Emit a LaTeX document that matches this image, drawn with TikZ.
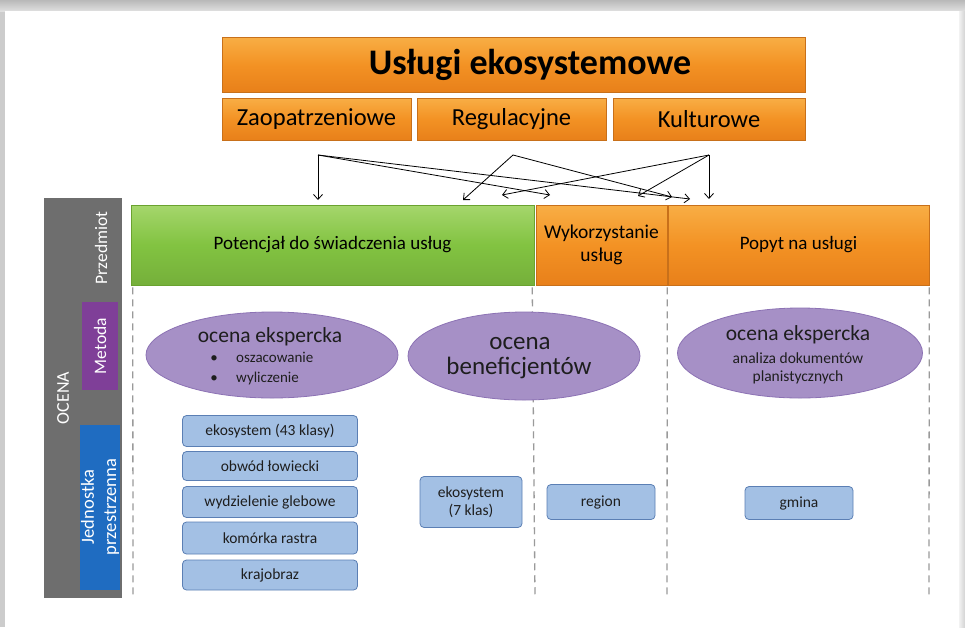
\documentclass[tikz,border=0pt]{standalone}
\usepackage{fontspec}
\setmainfont{Carlito}
\usetikzlibrary{arrows.meta,shapes.geometric}
\definecolor{orA}{HTML}{F39224}
\definecolor{orTop}{HTML}{F8AE45}
\definecolor{orBot}{HTML}{E8801A}
\definecolor{orLine}{HTML}{C8701A}
\definecolor{grA}{HTML}{82C341}
\definecolor{grTop}{HTML}{A5D66C}
\definecolor{grLine}{HTML}{6AA22F}
\definecolor{purE}{HTML}{A690C6}
\definecolor{purLine}{HTML}{8C72B4}
\definecolor{blueB}{HTML}{A3C0E4}
\definecolor{blueLine}{HTML}{5B7FB4}
\definecolor{metodaC}{HTML}{7F3F98}
\definecolor{jednC}{HTML}{1F6CC1}
\definecolor{barC}{HTML}{6E6E6E}
\definecolor{dashC}{HTML}{9A9A9A}
\definecolor{txtC}{HTML}{1E1E1E}
\begin{document}
\begin{tikzpicture}[x=1pt,y=-1pt,
  fs/.code={\pgfmathsetmacro\fsb{#1*1.2}\edef\fstmp{\noexpand\fontsize{#1}{\fsb}\noexpand\selectfont}\tikzset{font/.expand once=\fstmp}},
  obox/.style={draw=orLine, line width=0.5pt, top color=orTop, bottom color=orBot, middle color=orA, inner sep=0pt, text=black},
  gbox/.style={draw=grLine, line width=0.5pt, top color=grTop, bottom color=grA!90!black, middle color=grA, inner sep=0pt, text=black},
  ell/.style={ellipse, draw=purLine, line width=0.8pt, fill=purE, inner sep=0pt},
  etext/.style={inner sep=0pt, text=txtC},
  bbox/.style={draw=blueLine, line width=0.8pt, fill=blueB, rounded corners=4pt, inner sep=0pt, text=txtC, align=center, fs=15.5},
  sidebox/.style={inner sep=0pt, text=white},
  divider/.style={dashC, line width=1.3pt, dash pattern=on 7pt off 5pt},
  arr/.style={black, line width=0.8pt, -{Straight Barb[length=5pt,width=9pt]}}
]
\useasboundingbox (0,0) rectangle (965,627);
% page background
\fill[gray!40] (0,0) rectangle (965,627);
\shade[top color=gray!55, bottom color=gray!25] (0,0) rectangle (965,11);
\fill[white] (5,11) rectangle (959,627);
\shade[left color=gray!10, right color=gray!35] (959,11) rectangle (965,627);

% top boxes
\node[obox, minimum width=583pt, minimum height=55pt] (title) at (513.5,64.5) {};
\node[inner sep=0pt, font=\bfseries\fontsize{36}{40}\selectfont] (titlet) at (530,65) {Usługi ekosystemowe};
\node[obox, minimum width=189pt, minimum height=42pt, fs=24.5] (zao) at (316.5,119) {Zaopatrzeniowe};
\node[obox, minimum width=189pt, minimum height=42pt, fs=24.5] (reg) at (511.5,119) {Regulacyjne};
\node[obox, minimum width=192pt, minimum height=42pt, fs=24.5] (kul) at (709,119) {Kulturowe};

% arrows
\coordinate (zs) at (318,155);
\coordinate (rs) at (513,155);
\coordinate (ks) at (709,155);
\coordinate (t1) at (318,200);
\coordinate (t2) at (550,195);
\coordinate (t3) at (690,199);
\coordinate (t4) at (463,200);
\coordinate (t5) at (672,197);
\coordinate (t6) at (709,199);
\coordinate (t7) at (638,196);
\coordinate (t8) at (502,195);
\draw[arr] (zs) -- (t1);
\draw[arr] (zs) -- (t2);
\draw[arr] (zs) -- (t3);
\draw[arr] (rs) -- (t4);
\draw[arr] (rs) -- (t5);
\draw[arr] (ks) -- (t6);
\draw[arr] (ks) -- (t7);
\draw[arr] (ks) -- (t8);

% left side bar
\node[sidebox, fill=barC, minimum width=78pt, minimum height=400pt] (bar) at (83,398) {};
\node[sidebox, rotate=90, fs=18] (ocena) at (63,398) {OCENA};
\node[sidebox, rotate=90, fs=17.5] (przed) at (101,248) {Przedmiot};
\node[sidebox, fill=metodaC, minimum width=36pt, minimum height=88pt] (metoda) at (100,346) {};
\node[sidebox, rotate=90, fs=17.5] (metodat) at (metoda) {Metoda};
\node[sidebox, fill=jednC, minimum width=40pt, minimum height=165pt] (jedn) at (100,507) {};
\node[sidebox, rotate=90, fs=18.5, align=center] (jednt) at (jedn) {Jednostka\\przestrzenna};

% header row
\node[gbox, minimum width=403pt, minimum height=80pt, fs=19] (pot) at (332.5,245) {Potencjał do świadczenia usług};
\node[obox, minimum width=131pt, minimum height=80pt, fs=19.5, align=center] (wyk) at (601.5,245) {Wykorzystanie\\usług};
\node[obox, minimum width=261pt, minimum height=80pt, fs=19] (pop) at (798.5,245) {Popyt na usługi};

% dividers
\coordinate (d1b) at (133,598);
\coordinate (d2b) at (535,598);
\coordinate (d3b) at (667,598);
\coordinate (d4b) at (929,598);
\draw[divider] (pot.south west) ++(2,2) -- (d1b);
\draw[divider] (pot.south east) ++(-2,2) -- (d2b);
\draw[divider] (wyk.south east) ++(0,2) -- (d3b);
\draw[divider] (pop.south east) ++(0,2) -- (d4b);

% ellipses
\node[ell, minimum width=252pt, minimum height=86pt] (e1) at (272,355) {};
\node[etext, fs=21.5] (e1a) at (270,337) {ocena ekspercka};
\node[etext, fs=15, anchor=base west] (e1b) at (236,362) {oszacowanie};
\node[etext, fs=15, anchor=base west] (e1c) at (236,382) {wyliczenie};
\node[etext, fs=15, anchor=base] (e1bb) at (214,362) {\textbullet};
\node[etext, fs=15, anchor=base] (e1cb) at (214,382) {\textbullet};

\node[ell, minimum width=232pt, minimum height=88pt] (e2) at (524,356) {};
\node[etext, fs=25] (e2a) at (520,344) {ocena};
\node[etext, fs=25] (e2b) at (519,368) {beneficjentów};

\node[ell, minimum width=245pt, minimum height=90pt] (e3) at (800,353) {};
\node[etext, fs=21.5] (e3a) at (798,335) {ocena ekspercka};
\node[etext, fs=15.5] (e3b) at (798,358) {analiza dokumentów};
\node[etext, fs=15.5] (e3c) at (798,377) {planistycznych};

% spatial units
\node[bbox, minimum width=175pt, minimum height=31pt] (b1) at (270,431) {ekosystem (43 klasy)};
\node[bbox, minimum width=175pt, minimum height=29pt] (b2) at (270,466) {obwód łowiecki};
\node[bbox, minimum width=175pt, minimum height=31pt] (b3) at (270,502) {wydzielenie glebowe};
\node[bbox, minimum width=175pt, minimum height=32pt] (b4) at (270,538) {komórka rastra};
\node[bbox, minimum width=175pt, minimum height=30pt] (b5) at (270,575) {krajobraz};
\node[bbox, minimum width=102pt, minimum height=51pt] (b6) at (471,502) {ekosystem\\(7 klas)};
\node[bbox, minimum width=108pt, minimum height=35pt] (b7) at (601,502) {region};
\node[bbox, minimum width=108pt, minimum height=33pt] (b8) at (799,503) {gmina};
\end{tikzpicture}
\end{document}
